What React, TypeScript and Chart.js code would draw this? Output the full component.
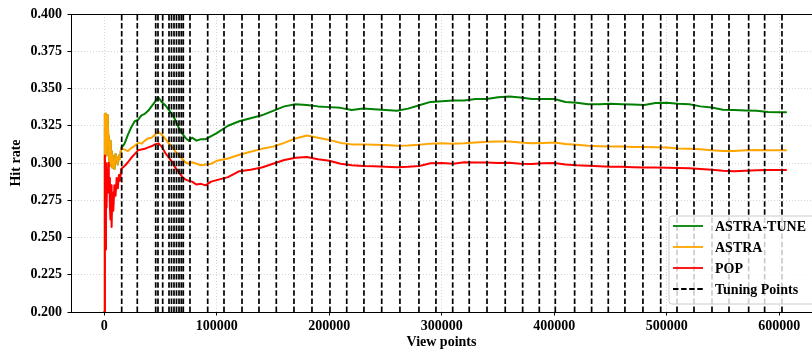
import React, { useEffect, useRef } from "react";
import { Chart, registerables } from "chart.js";

Chart.register(...registerables);

const viewPoints = [
  0, 500, 1000, 1500, 2000, 2500, 3000, 3500, 4000, 4500, 5000, 5500, 6000, 6500, 7000, 7500, 8000, 9000, 10000, 11000, 12000, 13000, 14000, 15000,
  18000, 21000, 24000, 27000, 30000, 33000, 36000, 39000, 42000, 45000, 48000, 51000, 54000, 57000, 60000, 63000, 66000, 69000, 72000, 75000, 78000, 82000, 86000, 90000, 95000, 100000,
  110000, 120000, 130000, 140000, 150000, 160000, 170000, 180000, 190000, 200000,
  210000, 220000, 230000, 240000, 250000, 260000, 270000, 280000, 290000, 300000,
  310000, 320000, 330000, 340000, 350000, 360000, 370000, 380000, 390000, 400000,
  410000, 420000, 430000, 440000, 450000, 460000, 470000, 480000, 490000, 500000,
  510000, 520000, 530000, 540000, 550000, 560000, 570000, 580000, 590000, 600000, 606000,
];

const astraTune = [
  0.2, 0.333, 0.312, 0.333, 0.305, 0.332, 0.33, 0.318, 0.31, 0.298, 0.305, 0.315, 0.3, 0.308, 0.297, 0.305, 0.302, 0.296, 0.306, 0.303, 0.299, 0.305, 0.303, 0.31,
  0.313, 0.319, 0.324, 0.328, 0.329, 0.332, 0.333, 0.335, 0.338, 0.341, 0.344, 0.341, 0.339, 0.336, 0.333, 0.329, 0.324, 0.32, 0.317, 0.315, 0.317, 0.315, 0.316, 0.316, 0.318, 0.32,
  0.325, 0.328, 0.33, 0.332, 0.335, 0.338, 0.3395, 0.339, 0.338, 0.3375,
  0.337, 0.3355, 0.3365, 0.336, 0.3355, 0.335, 0.3365, 0.3388, 0.341, 0.3415,
  0.342, 0.342, 0.343, 0.343, 0.3442, 0.3447, 0.344, 0.343, 0.343, 0.343,
  0.341, 0.3405, 0.3395, 0.3395, 0.3397, 0.3395, 0.3392, 0.339, 0.3403, 0.3405,
  0.3397, 0.3395, 0.338, 0.3372, 0.3358, 0.3355, 0.3352, 0.335, 0.3343, 0.334, 0.334,
];

const astra = [
  0.2, 0.333, 0.312, 0.333, 0.305, 0.332, 0.33, 0.318, 0.31, 0.298, 0.305, 0.315, 0.3, 0.308, 0.297, 0.305, 0.302, 0.296, 0.306, 0.303, 0.299, 0.305, 0.303, 0.31,
  0.309, 0.308, 0.31, 0.3115, 0.3135, 0.313, 0.315, 0.3165, 0.317, 0.319, 0.321, 0.319, 0.3165, 0.3135, 0.311, 0.308, 0.3055, 0.303, 0.3005, 0.2995, 0.3005, 0.2995, 0.2985, 0.299, 0.2995, 0.3015,
  0.303, 0.3055, 0.3075, 0.3095, 0.311, 0.3135, 0.3165, 0.3185, 0.317, 0.3155,
  0.3135, 0.3125, 0.3125, 0.3122, 0.312, 0.3115, 0.3117, 0.3122, 0.313, 0.3132,
  0.313, 0.3133, 0.3138, 0.3142, 0.3145, 0.3145, 0.3137, 0.3132, 0.3134, 0.3137,
  0.3128, 0.3123, 0.3115, 0.3113, 0.311, 0.311, 0.3107, 0.3107, 0.3105, 0.3104,
  0.3098, 0.3096, 0.3092, 0.3085, 0.308, 0.308, 0.3085, 0.3087, 0.3085, 0.3085, 0.3085,
];

const pop = [
  0.2, 0.305, 0.242, 0.3, 0.27, 0.295, 0.28, 0.3, 0.285, 0.29, 0.27, 0.262, 0.285, 0.257, 0.275, 0.28, 0.268, 0.285, 0.278, 0.29, 0.283, 0.292, 0.288, 0.296,
  0.298, 0.3005, 0.3035, 0.306, 0.3085, 0.309, 0.3095, 0.3105, 0.3112, 0.3125, 0.3132, 0.311, 0.307, 0.304, 0.301, 0.297, 0.294, 0.291, 0.289, 0.288, 0.2875, 0.2855, 0.286, 0.285, 0.2875, 0.2885,
  0.2905, 0.2945, 0.2955, 0.297, 0.2995, 0.302, 0.3035, 0.304, 0.3025, 0.3015,
  0.2995, 0.2985, 0.298, 0.2978, 0.2975, 0.2972, 0.2975, 0.298, 0.2998, 0.3,
  0.2995, 0.3005, 0.3003, 0.3003, 0.3, 0.3002, 0.2995, 0.2993, 0.2998, 0.3,
  0.299, 0.2985, 0.2982, 0.2978, 0.2975, 0.2975, 0.2972, 0.297, 0.297, 0.2968,
  0.2966, 0.2964, 0.296, 0.2955, 0.2948, 0.2945, 0.2948, 0.2952, 0.2953, 0.2953, 0.2953,
];

const tuningPoints = [
  15470, 29330, 45690, 47730, 51910, 57510, 59730, 61960, 64180, 66400, 68440, 70220, 76180,
  91910, 106400, 122400, 137500, 152900, 168600, 184600, 200600, 215500, 230800, 246600, 262800,
  279700, 294800, 309700, 324400, 340200, 356400, 371900, 386700, 400900, 418100, 433200, 448000,
  462800, 478800, 494600, 509100, 524200, 540200, 555300, 572800, 587000, 602400,
];

const xTicks = [0, 100000, 200000, 300000, 400000, 500000, 600000];
const yTicks = [0.2, 0.225, 0.25, 0.275, 0.3, 0.325, 0.35, 0.375, 0.4];

const seriesLabels = ["ASTRA-TUNE", "ASTRA", "POP", "Tuning Points"];
const seriesColors = ["#008000", "#FFA500", "#FF0000", "#000000"];
const xTitle = "View points";
const yTitle = "Hit rate";

const FONT_FAMILY = "'Liberation Serif', 'Times New Roman', Times, serif";
const tickFont = { family: FONT_FAMILY, size: 14, weight: "bold" as const };
const DASH = [5.5, 2.6];

const toXY = (ys: number[]) => viewPoints.map((x, i) => ({ x, y: ys[i] }));
const tuningData = () => {
  const out: { x: number; y: number | null }[] = [];
  tuningPoints.forEach((t) => {
    out.push({ x: t, y: yTicks[0] });
    out.push({ x: t, y: yTicks[yTicks.length - 1] });
    out.push({ x: t, y: null });
  });
  return out;
};

const framePlugin = {
  id: "framePlugin",
  afterDatasetsDraw(chart: any) {
    const { ctx, chartArea: a } = chart;
    ctx.save();
    ctx.strokeStyle = "#000";
    ctx.lineWidth = 1;
    ctx.setLineDash([]);
    const ty = Math.round(a.top) + 0.5;
    ctx.beginPath();
    ctx.moveTo(a.left, ty);
    ctx.lineTo(a.right, ty);
    ctx.stroke();

    const bx = a.left + 598;
    const by = a.top + 202;
    const bw = 160;
    const bh = 88;
    const r = 3;
    ctx.beginPath();
    ctx.moveTo(bx + r, by);
    ctx.lineTo(bx + bw - r, by);
    ctx.arcTo(bx + bw, by, bx + bw, by + r, r);
    ctx.lineTo(bx + bw, by + bh - r);
    ctx.arcTo(bx + bw, by + bh, bx + bw - r, by + bh, r);
    ctx.lineTo(bx + r, by + bh);
    ctx.arcTo(bx, by + bh, bx, by + bh - r, r);
    ctx.lineTo(bx, by + r);
    ctx.arcTo(bx, by, bx + r, by, r);
    ctx.closePath();
    ctx.fillStyle = "rgba(255,255,255,0.8)";
    ctx.fill();
    ctx.strokeStyle = "#cccccc";
    ctx.lineWidth = 1;
    ctx.stroke();

    const ds = chart.data.datasets;
    ds.forEach((d: any, i: number) => {
      const y = by + 10 + i * 21;
      ctx.strokeStyle = d.borderColor;
      ctx.lineWidth = 1.8;
      ctx.setLineDash(d.borderDash || []);
      ctx.beginPath();
      ctx.moveTo(bx + 4, y);
      ctx.lineTo(bx + 34, y);
      ctx.stroke();
      ctx.setLineDash([]);
      ctx.fillStyle = "#000";
      ctx.font = `bold 14px ${FONT_FAMILY}`;
      ctx.textBaseline = "middle";
      ctx.textAlign = "left";
      ctx.fillText(d.label, bx + 46, y + 1);
    });
    ctx.restore();
  },
};

export default function App() {
  const ref = useRef<HTMLCanvasElement>(null);

  useEffect(() => {
    if (!ref.current) return;
    const gridCommon = {
      color: "rgba(180,180,180,0.7)",
      lineWidth: 0.8,
      tickLength: 3.5,
      tickColor: "#000",
      tickWidth: 1,
      tickBorderDash: [],
    };
    const lineCommon = { borderWidth: 2, pointRadius: 0, borderDash: [], borderJoinStyle: "round", borderCapStyle: "round" };
    const chart = new Chart(ref.current, {
      type: "line",
      data: {
        datasets: [
          { label: seriesLabels[0], data: toXY(astraTune), borderColor: seriesColors[0], order: 4, ...lineCommon },
          { label: seriesLabels[1], data: toXY(astra), borderColor: seriesColors[1], order: 3, ...lineCommon },
          { label: seriesLabels[2], data: toXY(pop), borderColor: seriesColors[2], order: 2, ...lineCommon },
          { label: seriesLabels[3], data: tuningData(), borderColor: seriesColors[3], borderWidth: 1.7, pointRadius: 0, order: 1, borderDash: DASH, spanGaps: false },
        ] as any,
      },
      options: {
        animation: false,
        responsive: false,
        devicePixelRatio: 1,
        layout: { padding: { top: 14, right: 0, bottom: 0, left: 0 } },
        plugins: { legend: { display: false }, tooltip: { enabled: false } },
        scales: {
          x: {
            type: "linear",
            min: -29600,
            max: 629100,
            afterBuildTicks: (s: any) => {
              s.ticks = xTicks.map((v) => ({ value: v }));
            },
            afterFit: (s: any) => {
              s.height = 41;
            },
            ticks: { font: tickFont, color: "#000", padding: 2, maxRotation: 0, autoSkip: false, callback: (v: any) => String(v) },
            grid: gridCommon as any,
            border: { display: true, color: "#000", width: 1, dash: [1, 2] },
            title: { display: true, text: xTitle, font: tickFont, color: "#000", padding: { top: 0, bottom: 2.6 } },
          },
          y: {
            type: "linear",
            min: 0.2,
            max: 0.4,
            afterBuildTicks: (s: any) => {
              s.ticks = yTicks.map((v) => ({ value: v }));
            },
            afterFit: (s: any) => {
              s.width = 71;
            },
            ticks: { font: tickFont, color: "#000", padding: 5.5, callback: (v: any) => Number(v).toFixed(3) },
            grid: gridCommon as any,
            border: { display: true, color: "#000", width: 1, dash: [1, 2] },
            title: { display: true, text: yTitle, font: tickFont, color: "#000", padding: { top: 8.3, bottom: 0 } },
          },
        },
      } as any,
      plugins: [framePlugin],
    });
    return () => chart.destroy();
  }, []);

  return (
    <div style={{ position: "absolute", left: 0, top: 0, width: 812, height: 353, background: "#fff" }}>
      <canvas ref={ref} width={812} height={353} style={{ display: "block" }} />
    </div>
  );
}
